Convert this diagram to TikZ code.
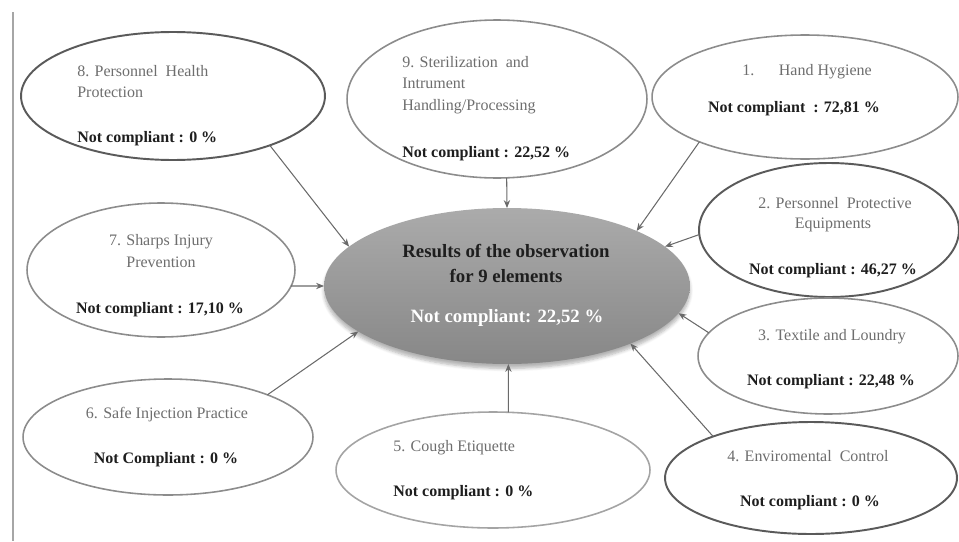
\documentclass[tikz,border=0pt]{standalone}
\usepackage{fontspec}
\setmainfont{Liberation Serif}
\usetikzlibrary{shapes.geometric,arrows.meta,shadows.blur}
\definecolor{gristexto}{HTML}{6e6e6e}
\definecolor{negrotexto}{HTML}{1e1e1e}
\definecolor{borde}{HTML}{8c8c8c}
\definecolor{bordeclaro}{HTML}{a4a4a4}
\definecolor{bordeosc}{HTML}{5a5a5a}
\definecolor{flecha}{HTML}{6a6a6a}

\begin{document}
\begin{tikzpicture}[x=0.02cm,y=-0.02cm,
  elem/.style={ellipse,draw=borde,line width=0.9pt,inner sep=0pt,outer sep=0pt,fill=white},
  elemosc/.style={elem,draw=bordeosc,line width=1.1pt},
  titulo/.style={text=gristexto,font=\fontsize{9.1}{11}\selectfont,inner sep=0pt,anchor=base},
  valor/.style={text=negrotexto,font=\fontsize{9.1}{11}\selectfont\bfseries,inner sep=0pt,anchor=base},
  flechita/.style={draw=flecha,line width=0.6pt,-{Stealth[length=4.5pt,width=3.6pt]}}]

  \useasboundingbox (0,0) rectangle (959,541);
  \draw[black!35,line width=1.2pt] (13,12) -- (13,541);

  % centre
  \node[ellipse,minimum width=7.32cm,minimum height=3.12cm,inner sep=0pt,outer sep=0pt,
    top color=black!33,middle color=black!42,bottom color=black!47,
    blur shadow={shadow xshift=0pt,shadow yshift=-2.5pt,shadow blur steps=6,shadow opacity=30}] (res) at (507,286) {};
  \node[valor,font=\fontsize{10.7}{13}\selectfont\bfseries] (r1) at (506,257) {Results of the observation};
  \node[valor,font=\fontsize{10.7}{13}\selectfont\bfseries] (r2) at (506,282) {for 9 elements};
  \node[valor,text=white,font=\fontsize{10.7}{13}\selectfont\bfseries] (r3) at (507,322) {Not compliant: 22,52 \%};

  % 8
  \node[elemosc,minimum width=6.08cm,minimum height=2.56cm] (e8) at (173,96) {};
  \node[titulo,anchor=base west] (t8a) at (77,76) {8. Personnel\ \ Health};
  \node[titulo,anchor=base west] (t8b) at (77,97) {Protection};
  \node[valor,anchor=base west] (v8) at (77,142) {Not compliant : 0 \%};

  % 9
  \node[elem,minimum width=6.0cm,minimum height=3.16cm] (e9) at (497,99) {};
  \node[titulo,anchor=base west] (t9a) at (402,67) {9. Sterilization\ \ and};
  \node[titulo,anchor=base west] (t9b) at (402,88) {Intrument};
  \node[titulo,anchor=base west] (t9c) at (402,110) {Handling/Processing};
  \node[valor,anchor=base west] (v9) at (402,157) {Not compliant : 22,52 \%};

  % 1
  \node[elem,minimum width=6.12cm,minimum height=2.48cm] (e1) at (805,97) {};
  \node[titulo] (t1) at (807,75) {1.\hspace{14pt}Hand Hygiene};
  \node[valor] (v1) at (794,112) {Not compliant\ \ : 72,81 \%};

  % 2
  \node[elemosc,minimum width=5.2cm,minimum height=2.68cm] (e2) at (829,230) {};
  \node[titulo] (t2a) at (835,208) {2. Personnel\ \ Protective};
  \node[titulo] (t2b) at (833,228) {Equipments};
  \node[valor] (v2) at (833,274) {Not compliant : 46,27 \%};

  % 3
  \node[elem,minimum width=5.2cm,minimum height=2.32cm] (e3) at (828,356) {};
  \node[titulo] (t3) at (832,340) {3. Textile and Loundry};
  \node[valor] (v3) at (831,385) {Not compliant : 22,48 \%};

  % 4
  \node[elemosc,minimum width=5.84cm,minimum height=2.24cm] (e4) at (811,478) {};
  \node[titulo] (t4) at (808,461) {4. Enviromental\ \ Control};
  \node[valor] (v4) at (810,506) {Not compliant : 0 \%};

  % 5
  \node[elem,draw=bordeclaro,minimum width=6.28cm,minimum height=2.32cm] (e5) at (493,470) {};
  \node[titulo,anchor=base west] (t5) at (393,451) {5. Cough Etiquette};
  \node[valor,anchor=base west] (v5) at (393,496) {Not compliant : 0 \%};

  % 6
  \node[elem,minimum width=5.8cm,minimum height=2.32cm] (e6) at (168,437) {};
  \node[titulo] (t6) at (167,418) {6. Safe Injection\ Practice};
  \node[valor] (v6) at (166,463) {Not Compliant : 0 \%};

  % 7
  \node[elem,minimum width=5.36cm,minimum height=2.68cm] (e7) at (161,270) {};
  \node[titulo] (t7a) at (161,245) {7. Sharps Injury};
  \node[titulo] (t7b) at (161,267) {Prevention};
  \node[valor] (v7) at (160,313) {Not compliant : 17,10 \%};

  \draw[flechita] (e8.-27) -- (res.166);
  \draw[flechita] (e9.-83) -- (res.90);
  \draw[flechita] (e1.-157) -- (res.23);
  \draw[flechita] (e2.182) -- (res.14);
  \draw[flechita] (e3.169) -- (res.-9);
  \draw[flechita] (e4.157) -- (res.-25);
  \draw[flechita] (e5.75) -- (res.-89);
  \draw[flechita] (e6.23) -- (res.-163);
  \draw[flechita] (e7.-7) -- (res.180);

\end{tikzpicture}
\end{document}
